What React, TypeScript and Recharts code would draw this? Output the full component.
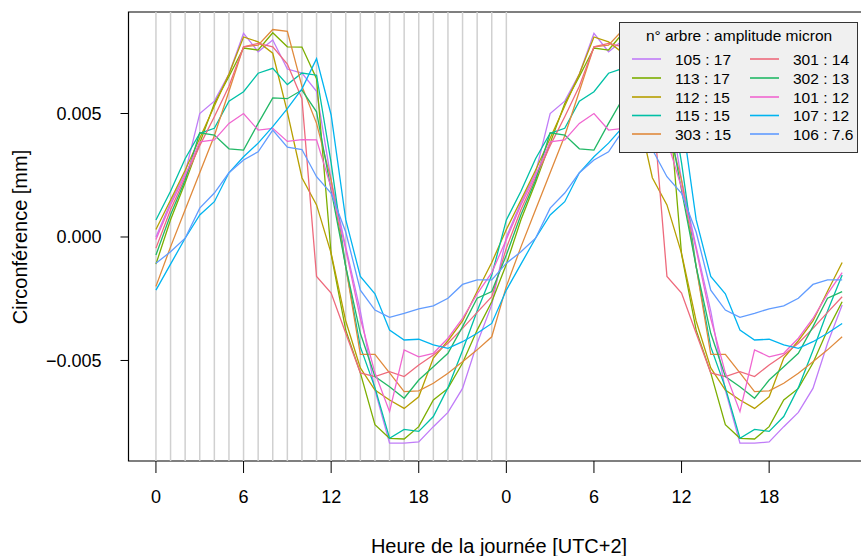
import React from "react";
import {
  LineChart, Line, XAxis, YAxis, ReferenceLine, ReferenceArea, Legend, Label,
} from "recharts";

// hour of day, the two days are drawn one after the other
const hourOfDay = [0, 1, 2, 3, 4, 5, 6, 7, 8, 9, 10, 11, 12, 13, 14, 15, 16, 17, 18, 19, 20, 21, 22, 23];
const days = [0, 1];
const xTicks = [0, 6, 12, 18, 24, 30, 36, 42];
const xTickLabels = ["0", "6", "12", "18", "0", "6", "12", "18"];
const yTicks = [-0.005, 0, 0.005];
const gridHours = [0, 1, 2, 3, 4, 5, 6, 7, 8, 9, 10, 11, 12, 13, 14, 15, 16, 17, 18, 19, 20, 21, 22, 23, 24];

// values in micron (0.001 mm)
const s105 = [0.0, 1.4, 2.6, 5.0, 5.5, 6.6, 8.25, 7.5, 7.98, 6.8, 6.64, 5.9, 2.3, -0.4, -3.0, -6.2, -8.35, -8.35, -8.3, -7.68, -7.1, -6.13, -4.3, -2.75];
const s113 = [-1.1, 0.7, 2.2, 3.8, 5.4, 6.5, 7.65, 7.57, 8.27, 7.7, 7.69, 6.41, -0.7, -3.77, -5.5, -7.6, -8.15, -8.18, -7.68, -6.6, -6.13, -5.1, -3.77, -2.62];
const s112 = [0.3, 1.5, 2.7, 4.0, 5.3, 6.6, 8.1, 7.9, 7.44, 5.06, 2.4, 1.3, -0.66, -3.4, -5.3, -6.2, -6.6, -6.94, -6.47, -4.9, -4.2, -3.4, -2.2, -1.03];
const s115 = [0.69, 1.85, 3.17, 4.2, 4.4, 5.5, 5.88, 6.63, 6.83, 6.17, 6.64, 6.55, 3.0, -1.2, -4.45, -6.1, -8.15, -7.79, -7.87, -7.27, -6.1, -4.6, -3.0, -1.54];
const s303 = [-2.0, -0.4, 1.1, 2.6, 4.1, 5.9, 7.7, 7.77, 8.4, 8.33, 6.1, 4.6, 2.3, -1.2, -4.75, -4.75, -5.5, -6.26, -6.23, -5.92, -5.52, -5.05, -4.57, -4.04];
const s301 = [-0.45, 1.1, 2.4, 3.7, 4.87, 6.1, 7.7, 7.84, 7.7, 7.0, 5.6, -1.6, -2.27, -3.9, -5.5, -5.65, -5.45, -5.65, -5.18, -4.78, -4.3, -3.7, -3.05, -2.42];
const s302 = [-0.73, 0.9, 2.3, 4.22, 4.13, 3.57, 3.52, 4.6, 5.63, 5.6, 5.95, 5.07, 1.9, -1.2, -3.9, -5.65, -6.06, -6.53, -5.79, -5.25, -4.71, -3.63, -2.48, -2.21];
const s101 = [-0.1, 1.3, 2.5, 3.85, 3.93, 4.6, 5.0, 4.33, 4.4, 3.87, 3.94, 3.93, 2.0, -0.5, -3.3, -5.5, -7.07, -4.57, -4.85, -4.71, -4.1, -3.3, -2.3, -1.44];
const s107 = [-2.15, -1.1, -0.05, 0.89, 1.43, 2.6, 3.25, 3.8, 4.47, 5.2, 6.0, 7.22, 4.94, 0.7, -1.6, -2.3, -3.77, -4.17, -4.14, -4.37, -4.51, -4.24, -3.9, -3.5];
const s106 = [-1.06, -0.6, -0.05, 1.17, 1.78, 2.6, 3.12, 3.45, 4.33, 3.64, 3.54, 2.44, 1.77, 0.2, -2.15, -2.96, -3.25, -3.09, -2.91, -2.79, -2.48, -1.92, -1.74, -1.74];

const trees = ["105", "113", "112", "115", "303", "301", "302", "101", "107", "106"];
const amplitudes = ["17", "17", "15", "15", "15", "14", "13", "12", "12", "7.6"];
const colors = ["#C07CF8", "#7CAE00", "#B79F00", "#00C0A6", "#E08A3C", "#EE6A7C", "#22B866", "#F066D0", "#00B4F0", "#619CFF"];
const values = [s105, s113, s112, s115, s303, s301, s302, s101, s107, s106];

const rows = days.flatMap((d) =>
  hourOfDay.map((h, i) => {
    const row: Record<string, number> = { x: d * 24 + h };
    trees.forEach((t, k) => { row["t" + t] = values[k][i] / 1000; });
    return row;
  })
);

const font = "'Liberation Sans', Arial, Helvetica, sans-serif";

function fmtY(v: number) {
  return v.toFixed(3).replace("-", "\u2212");
}

function LegendBox() {
  const rowY = [37, 56, 75, 93.5, 112];
  return (
    <svg width={239} height={131} style={{ display: "block" }}>
      <rect x={0.5} y={0.5} width={238} height={130} fill="#F0F0F0" stroke="#333" strokeWidth={1} />
      <text x={120} y={19} textAnchor="middle" fontSize={15.5} fontFamily={font} fill="#000">
        n° arbre : amplitude micron
      </text>
      {trees.map((t, k) => {
        const col = k < 5 ? 0 : 1;
        const y = rowY[k % 5];
        const lx = col === 0 ? 13 : 131;
        const tx = col === 0 ? 56 : 174;
        return (
          <g key={t}>
            <line x1={lx} x2={lx + 29} y1={y} y2={y} stroke={colors[k]} strokeWidth={1.6} />
            <text x={tx} y={y + 5.5} fontSize={15.5} fontFamily={font} fill="#000">
              {`${t} : ${amplitudes[k]}`}
            </text>
          </g>
        );
      })}
    </svg>
  );
}

export default function App() {
  return (
    <div style={{ position: "absolute", left: 0, top: 0, width: 861, height: 556, overflow: "hidden", background: "#fff" }}>
      <LineChart
        width={900}
        height={556}
        data={rows}
        margin={{ top: 12, right: 30.4, left: 0, bottom: 0 }}
        style={{ fontFamily: font }}
      >
        {gridHours.map((h) => (
          <ReferenceLine key={h} x={h} stroke="#D0D0D0" strokeWidth={1.5} />
        ))}
        <ReferenceArea x1={-1.88} x2={48.88} y1={-0.00907} y2={0.00911} fill="none" stroke="#000" strokeWidth={1.2} />
        <XAxis
          dataKey="x"
          type="number"
          domain={[-1.88, 48.88]}
          ticks={xTicks}
          tickFormatter={(v: number) => xTickLabels[xTicks.indexOf(v)]}
          axisLine={false}
          tickLine={{ stroke: "#000" }}
          tickSize={12}
          tickMargin={17}
          height={95}
          tick={{ fill: "#000", fontSize: 18 }}
        >
          <Label value="Heure de la journée [UTC+2]" position="insideBottom" offset={3} fontSize={20} fill="#000" />
        </XAxis>
        <YAxis
          type="number"
          domain={[-0.00907, 0.00911]}
          ticks={yTicks}
          tickFormatter={fmtY}
          axisLine={false}
          tickLine={{ stroke: "#000" }}
          tickSize={8}
          tickMargin={19}
          width={128.5}
          tick={{ fill: "#000", fontSize: 18 }}
        >
          <Label
            content={() => (
              <text x={27} y={237} transform="rotate(-90, 27, 237)" textAnchor="middle" fontSize={20} fontFamily={font} fill="#000">
                Circonférence [mm]
              </text>
            )}
          />
        </YAxis>
        {trees.map((t, k) => (
          <Line
            key={t}
            dataKey={"t" + t}
            stroke={colors[k]}
            strokeWidth={1.3}
            dot={false}
            activeDot={false}
            isAnimationActive={false}
          />
        ))}
        <Legend
          layout="horizontal"
          verticalAlign="middle"
          align="center"
          content={() => <LegendBox />}
          wrapperStyle={{ left: 619, top: 22, width: 239, height: 131 }}
        />
      </LineChart>
    </div>
  );
}
